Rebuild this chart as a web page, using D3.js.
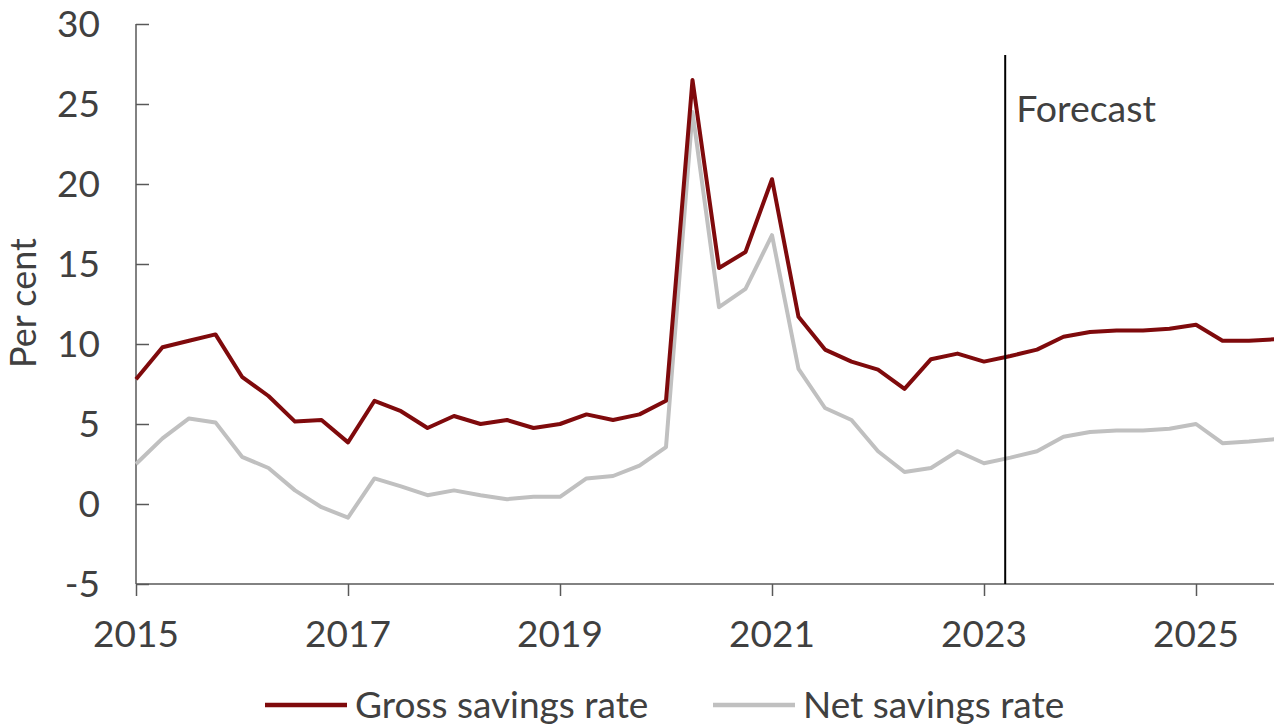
<!DOCTYPE html>
<html>
<head>
<meta charset="utf-8">
<script src="https://cdn.jsdelivr.net/npm/d3@7"></script>
<style>
  html, body { margin: 0; padding: 0; background: #fff; }
  svg { display: block; }
  text { font-family: Lato, "Open Sans", sans-serif; fill: #404040; }
</style>
</head>
<body>
<svg id="chart" width="1274" height="726"></svg>
<script>
// Quarterly, 2015 Q1 .. 2025 Q4
const startYear = 2015;
const gross = [7.8, 9.8, 10.2, 10.6, 7.95, 6.75, 5.15, 5.25, 3.85, 6.45, 5.8,
  4.75, 5.5, 5.0, 5.25, 4.75, 5.0, 5.6, 5.25, 5.6, 6.45, 26.5,
  14.75, 15.75, 20.3, 11.7, 9.65, 8.9, 8.4, 7.2, 9.05, 9.4, 8.9,
  9.25, 9.65, 10.45, 10.75, 10.85, 10.85, 10.95, 11.2, 10.2, 10.2, 10.3];
const net = [2.5, 4.1, 5.35, 5.1, 2.95, 2.25, 0.85, -0.2, -0.85, 1.6, 1.1,
  0.55, 0.85, 0.55, 0.3, 0.45, 0.45, 1.6, 1.75, 2.4, 3.55, 24.5,
  12.3, 13.45, 16.8, 8.45, 6.0, 5.25, 3.3, 2.0, 2.25, 3.3, 2.55,
  2.9, 3.3, 4.2, 4.5, 4.6, 4.6, 4.7, 5.0, 3.8, 3.9, 4.05];
const xTicks = [2015, 2017, 2019, 2021, 2023, 2025];
const yTicks = [-5, 0, 5, 10, 15, 20, 25, 30];
const forecastStart = 2023.2;
const seriesNames = ["Gross savings rate", "Net savings rate"];
const seriesColors = ["#7f0a0c", "#c0c0c0"];

const svg = d3.select("#chart");
const x = d3.scaleLinear().domain([2015, 2025]).range([136, 1196]);
const y = d3.scaleLinear().domain([-5, 30]).range([584, 24]);

const t = i => startYear + i * 0.25;

// Y axis (ticks inside)
const yAxis = svg.append("g").attr("transform", "translate(136,0)")
  .call(d3.axisRight(y).tickValues(yTicks).tickSize(13).tickFormat(d3.format("d")));
yAxis.select(".domain").remove();
yAxis.selectAll(".tick line").attr("stroke", "#595959").attr("stroke-width", 1.5);
yAxis.selectAll(".tick text").remove();
svg.append("line").attr("x1", 136).attr("x2", 136).attr("y1", y(30)).attr("y2", y(-5))
  .attr("stroke", "#595959").attr("stroke-width", 1.5);
svg.append("g").selectAll("text").data(yTicks).join("text")
  .attr("x", 100).attr("y", d => y(d)).attr("dy", "0.36em")
  .attr("text-anchor", "end").attr("font-size", 37)
  .text(d => d);

// X axis
const xAxis = svg.append("g").attr("transform", "translate(0,584)")
  .call(d3.axisBottom(x).tickValues(xTicks).tickSize(12).tickFormat(d3.format("d")));
xAxis.select(".domain").remove();
xAxis.selectAll(".tick line").attr("stroke", "#595959").attr("stroke-width", 1.5);
xAxis.selectAll(".tick text").remove();
svg.append("line").attr("x1", 136).attr("x2", 1274).attr("y1", 584).attr("y2", 584)
  .attr("stroke", "#595959").attr("stroke-width", 1.5);
svg.append("g").selectAll("text").data(xTicks).join("text")
  .attr("x", d => x(d)).attr("y", 647)
  .attr("text-anchor", "middle").attr("font-size", 37)
  .text(d => d);

// Y label
svg.append("text").attr("transform", "translate(36,303) rotate(-90)")
  .attr("text-anchor", "middle").attr("font-size", 36).text("Per cent");

// Lines
const line = d3.line().x((d, i) => x(t(i))).y(d => y(d));
[net, gross].forEach((s, k) => {
  svg.append("path").datum(s).attr("d", line)
    .attr("fill", "none")
    .attr("stroke", k === 0 ? seriesColors[1] : seriesColors[0])
    .attr("stroke-width", 4).attr("stroke-linejoin", "round");
});

// Forecast marker
svg.append("line").attr("x1", x(forecastStart)).attr("x2", x(forecastStart))
  .attr("y1", 55).attr("y2", 584).attr("stroke", "#000").attr("stroke-width", 2);
svg.append("text").attr("x", x(forecastStart) + 11).attr("y", 122)
  .attr("font-size", 37.5).text("Forecast");

// Legend
const legendX = [265, 713];
seriesNames.forEach((name, k) => {
  svg.append("line").attr("x1", legendX[k]).attr("x2", legendX[k] + 82)
    .attr("y1", 705).attr("y2", 705)
    .attr("stroke", seriesColors[k]).attr("stroke-width", 4.5);
  svg.append("text").attr("x", legendX[k] + 90).attr("y", 718)
    .attr("font-size", 37).text(name);
});
</script>
</body>
</html>
